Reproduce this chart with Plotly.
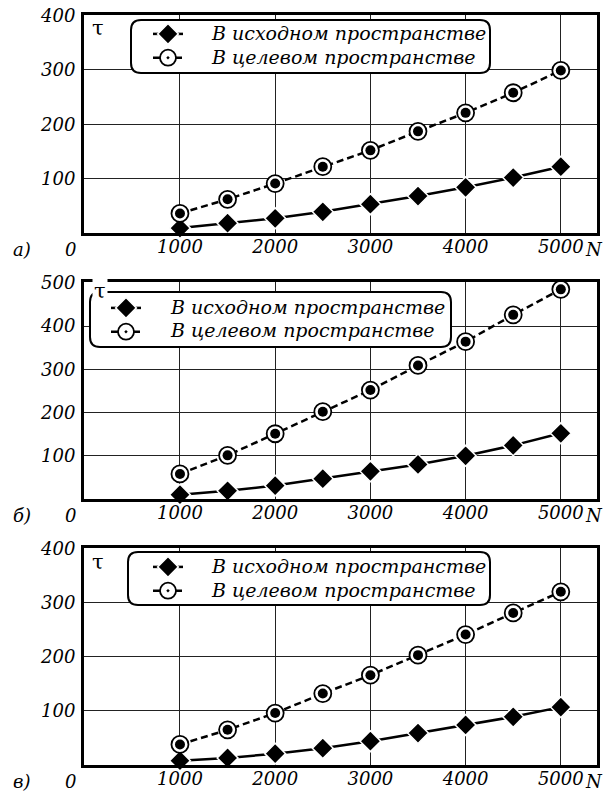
import plotly.graph_objects as go

# ---------------- data ----------------
N = [1000, 1500, 2000, 2500, 3000, 3500, 4000, 4500, 5000]

tau_src_a = [9, 18, 27, 39, 53, 68, 84, 102, 122]
tau_tgt_a = [36, 62, 91, 122, 152, 187, 221, 258, 299]

tau_src_b = [10, 19, 31, 47, 64, 80, 100, 124, 152]
tau_tgt_b = [58, 101, 151, 202, 252, 309, 364, 426, 485]

tau_src_c = [8, 13, 21, 31, 44, 59, 74, 89, 107]
tau_tgt_c = [38, 65, 96, 132, 166, 203, 241, 281, 320]

x_ticks = [1000, 2000, 3000, 4000, 5000]
y_ticks_a = [100, 200, 300, 400]
y_ticks_b = [100, 200, 300, 400, 500]
y_ticks_c = [100, 200, 300, 400]

name_src = "В исходном пространстве"
name_tgt = "В целевом пространстве"
panel_letters = ["а)", "б)", "в)"]

# ---------------- layout helpers ----------------
W, H = 605, 792
def px(x):
    return x / W
def py(y):
    return 1 - y / H

FONT = "DejaVu Serif"
TS, LS = 18, 19
ital = dict(family=FONT, size=TS, color="black", style="italic")
leg_txt = dict(family=FONT, size=LS, color="black", style="italic")

panels = [
    dict(src=tau_src_a, tgt=tau_tgt_a, yt=y_ticks_a, top=15, bot=233, yr=[0, 401],
         box=(131, 20, 490, 73), sym_x=170, txt_x=209, rows=(33, 57), tau=(98, 28)),
    dict(src=tau_src_b, tgt=tau_tgt_b, yt=y_ticks_b, top=282, bot=499, yr=[0, 502],
         box=(90, 292, 451, 347), sym_x=128, txt_x=168, rows=(307, 330), tau=(100, 291)),
    dict(src=tau_src_c, tgt=tau_tgt_c, yt=y_ticks_c, top=548, bot=765, yr=[0, 401],
         box=(128, 552, 490, 605), sym_x=170, txt_x=209, rows=(566, 590), tau=(98, 562)),
]

X_LEFT, X_RIGHT = 84, 597

fig = go.Figure()
shapes = []
annotations = []

def rounded_box(x0, y0, x1, y1, r=10):
    def P(x, y):
        return f"{px(x):.5f},{py(y):.5f}"
    path = (f"M {P(x0 + r, y0)} L {P(x1 - r, y0)} Q {P(x1, y0)} {P(x1, y0 + r)} "
            f"L {P(x1, y1 - r)} Q {P(x1, y1)} {P(x1 - r, y1)} "
            f"L {P(x0 + r, y1)} Q {P(x0, y1)} {P(x0, y1 - r)} "
            f"L {P(x0, y0 + r)} Q {P(x0, y0)} {P(x0 + r, y0)} Z")
    return dict(type="path", path=path, xref="paper", yref="paper",
                line=dict(color="black", width=2), fillcolor="white", layer="above")

for i, p in enumerate(panels):
    k = "" if i == 0 else str(i + 1)
    xa, ya = "x" + k, "y" + k
    leg = "legend" + k
    fig.add_trace(go.Scatter(
        x=N, y=p["src"], name=" ", xaxis=xa, yaxis=ya, legend=leg,
        mode="lines+markers", line=dict(color="black", width=2.5),
        marker=dict(symbol="diamond", size=16, color="black",
                    line=dict(color="white", width=1.5)),
        hovertemplate=name_src + "<br>N=%{x}<br>τ=%{y}<extra></extra>",
        cliponaxis=False))
    fig.add_trace(go.Scatter(
        x=N, y=p["tgt"], name="  ", xaxis=xa, yaxis=ya, legend=leg,
        mode="lines+markers", line=dict(color="black", width=2.5, dash="7px,4px"),
        marker=dict(symbol="circle-dot", size=17, color="white",
                    line=dict(color="black", width=1.8)),
        hovertemplate=name_tgt + "<br>N=%{x}<br>τ=%{y}<extra></extra>",
        cliponaxis=False))
    fig.add_trace(go.Scatter(
        x=N, y=p["tgt"], xaxis=xa, yaxis=ya, showlegend=False,
        mode="markers", marker=dict(symbol="circle", size=10, color="black"),
        hoverinfo="skip", cliponaxis=False))

    dom_y = [py(p["bot"]), py(p["top"])]
    axis_common = dict(showline=True, linewidth=3, linecolor="black", mirror=True,
                       showgrid=True, gridcolor="#222", gridwidth=1, zeroline=False,
                       ticks="", tickfont=ital, automargin=False)
    fig.layout["xaxis" + k] = dict(axis_common, domain=[px(X_LEFT), px(X_RIGHT)],
                                   range=[-8, 5380], tickvals=x_ticks,
                                   ticklabelstandoff=-5, anchor=ya)
    fig.layout["yaxis" + k] = dict(axis_common, domain=dom_y, range=p["yr"],
                                   tickvals=p["yt"], ticklabelstandoff=2, anchor=xa)
    r1, r2 = p["rows"]
    fig.layout[leg] = dict(x=px(p["sym_x"] - 22), y=py(r1 - 16), xanchor="left",
                           yanchor="top", bgcolor="rgba(0,0,0,0)", borderwidth=0,
                           font=dict(family=FONT, size=16, color="black"),
                           tracegroupgap=0, itemwidth=30)

    bx0, by0, bx1, by1 = p["box"]
    shapes.append(rounded_box(bx0, by0, bx1, by1))

    def ann(x, y, text, font, xanchor="center", **kw):
        annotations.append(dict(x=px(x), y=py(y), xref="paper", yref="paper",
                                xanchor=xanchor, yanchor="middle", text=text,
                                showarrow=False, font=font, **kw))

    ann(p["txt_x"], r1, name_src, leg_txt, xanchor="left")
    ann(p["txt_x"], r2, name_tgt, leg_txt, xanchor="left")
    if i == 1:
        ann(p["tau"][0], p["tau"][1], "τ", dict(family=FONT, size=21, color="black"),
            bgcolor="white")
    else:
        ann(p["tau"][0], p["tau"][1], "τ", dict(family=FONT, size=21, color="black"))
    lab_y = p["bot"] + 16
    ann(70, lab_y, "0", ital)
    ann(22, lab_y, panel_letters[i], ital)
    ann(594, lab_y, "N", ital)

fig.update_layout(width=W, height=H,
                  margin=dict(l=0, r=0, t=0, b=0, pad=0, autoexpand=False),
                  paper_bgcolor="white", plot_bgcolor="white",
                  shapes=shapes, annotations=annotations, showlegend=True)

fig.write_html("out.html", config=dict(displayModeBar=False),
               post_script="document.body.style.margin='0';document.body.style.padding='0';")
